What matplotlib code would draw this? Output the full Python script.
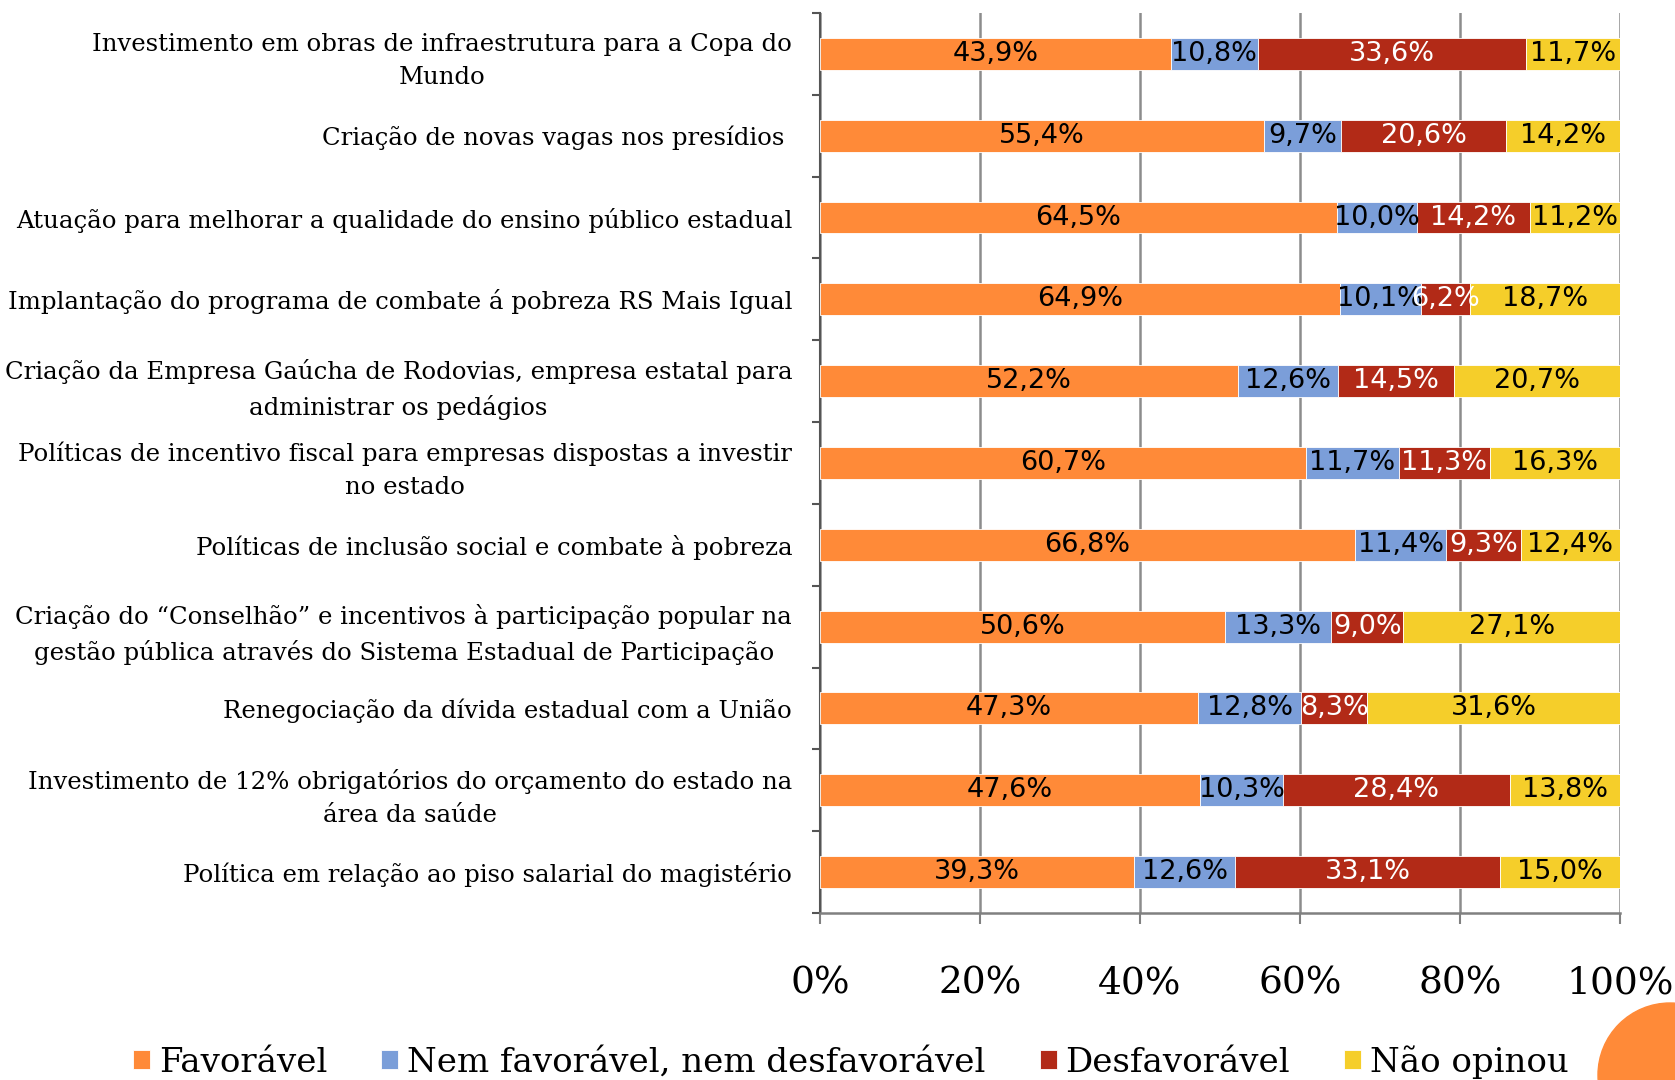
import numpy as np
import matplotlib
matplotlib.use("Agg")
import matplotlib.pyplot as plt
from matplotlib.patches import Ellipse

categories = [
    "Investimento em obras de infraestrutura para a Copa do\nMundo",
    "Criação de novas vagas nos presídios ",
    "Atuação para melhorar a qualidade do ensino público estadual",
    "Implantação do programa de combate á pobreza RS Mais Igual",
    "Criação da Empresa Gaúcha de Rodovias, empresa estatal para\nadministrar os pedágios",
    "Políticas de incentivo fiscal para empresas dispostas a investir\nno estado",
    "Políticas de inclusão social e combate à pobreza",
    "Criação do “Conselhão” e incentivos à participação popular na\ngestão pública através do Sistema Estadual de Participação",
    "Renegociação da dívida estadual com a União",
    "Investimento de 12% obrigatórios do orçamento do estado na\nárea da saúde",
    "Política em relação ao piso salarial do magistério",
]
series_names = ["Favorável", "Nem favorável, nem desfavorável", "Desfavorável", "Não opinou"]
favoravel = [43.9, 55.4, 64.5, 64.9, 52.2, 60.7, 66.8, 50.6, 47.3, 47.6, 39.3]
nem = [10.8, 9.7, 10.0, 10.1, 12.6, 11.7, 11.4, 13.3, 12.8, 10.3, 12.6]
desfavoravel = [33.6, 20.6, 14.2, 6.2, 14.5, 11.3, 9.3, 9.0, 8.3, 28.4, 33.1]
nao_opinou = [11.7, 14.2, 11.2, 18.7, 20.7, 16.3, 12.4, 27.1, 31.6, 13.8, 15.0]
xtick_labels = ["0%", "20%", "40%", "60%", "80%", "100%"]

colors = ["#FF8A38", "#7B9ED9", "#B22A17", "#F5CE2A"]
text_colors = ["black", "black", "white", "black"]

serif = ["DejaVu Serif Condensed", "DejaVu Serif"]
narrow = ["DejaVu Sans Condensed", "DejaVu Sans"]

fig = plt.figure(figsize=(16.75, 10.8), dpi=100)
ax = fig.add_axes([820/1675, 1-913/1080, 800/1675, 900/1080])

data = np.array([favoravel, nem, desfavoravel, nao_opinou], dtype=float)
totals = data.sum(axis=0)
pct = data / totals * 100
y = np.arange(len(categories))
left = np.zeros(len(categories))
for i in range(4):
    bars = ax.barh(y, pct[i], left=left, height=0.39, color=colors[i],
                   edgecolor="white", linewidth=0.6, label=series_names[i], zorder=3)
    for j, b in enumerate(bars):
        ax.text(left[j] + pct[i][j] / 2, y[j], f"{data[i][j]:.1f}%".replace(".", ","),
                ha="center", va="center", fontsize=19.5, color=text_colors[i],
                family=narrow, zorder=4)
    left += pct[i]

ax.set_xlim(0, 100)
ax.set_ylim(len(categories) - 0.5, -0.5)
ax.set_xticks(np.arange(0, 101, 20))
ax.set_xticklabels(xtick_labels, family=serif, fontsize=27)
ax.set_yticks(y)
ax.set_yticklabels(categories, family=serif, fontsize=17.6, ha="right",
                   multialignment="center", linespacing=1.55)
ax.set_yticks(np.arange(-0.5, len(categories), 1), minor=True)
ax.tick_params(axis="y", which="major", length=0, pad=20)
ax.tick_params(axis="y", which="minor", length=6, width=1.5, color="#555555", direction="out")
ax.tick_params(axis="x", which="major", length=8, width=1.5, color="#808080", pad=30)
ax.grid(axis="x", color="#8c8c8c", linewidth=1.8, zorder=0)
for s in ["top", "right"]:
    ax.spines[s].set_visible(False)
ax.spines["left"].set_color("#555555")
ax.spines["left"].set_linewidth(1.5)
ax.spines["bottom"].set_color("#808080")
ax.spines["bottom"].set_linewidth(1.8)

fig.legend(loc="center", bbox_to_anchor=(0.508, 1-1062/1080), ncol=4, frameon=False,
           prop={"family": serif, "size": 24.5}, handlelength=0.5, handleheight=0.5,
           handletextpad=0.25, columnspacing=1.6, borderaxespad=0)

circ = Ellipse((1670/1675, 1-1075/1080), 144/1675, 144/1080, transform=fig.transFigure,
               color="#FF8A38", zorder=10)
fig.patches.append(circ)

fig.savefig("out.png", dpi=100)
